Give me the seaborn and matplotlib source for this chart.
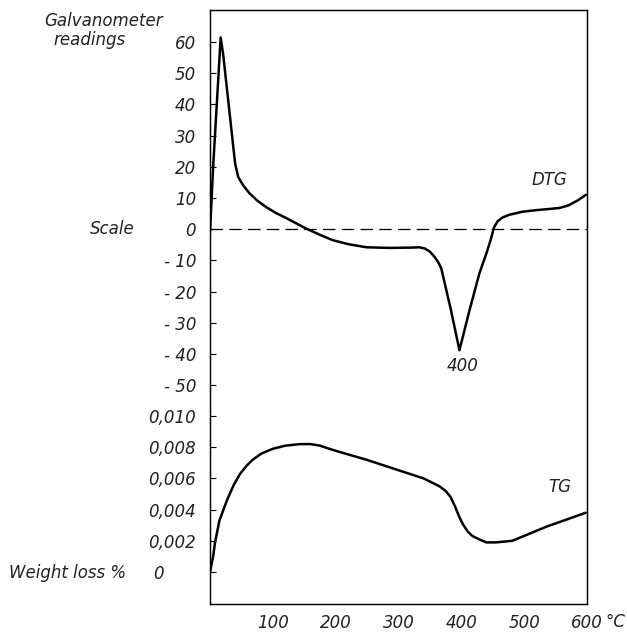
import matplotlib
matplotlib.use("Agg")
import matplotlib.pyplot as plt
import pandas as pd
import seaborn as sns

# DTG curve (galvanometer readings vs temperature, deg C)
dtg_temp = [0, 5, 17, 21, 40, 45, 53, 63, 75, 90, 105, 122, 152, 175, 195, 220, 249, 286,
            320, 333, 342, 350, 357, 363, 368, 383, 397, 413, 429, 440, 447, 452, 458,
            466, 476, 497, 519, 556, 570, 585, 598]
dtg_read = [-1, 20, 61.5, 56, 21, 16.7, 14, 11.5, 9.2, 7, 5.2, 3.5, 0.3, -1.8, -3.5, -4.8,
            -5.8, -6, -5.9, -5.8, -6.2, -7.2, -8.8, -10.5, -12.5, -25.5, -38.8, -26, -14,
            -7.7, -3.2, 0.6, 2.6, 3.8, 4.6, 5.6, 6.1, 6.8, 7.6, 9.2, 11]

# TG curve (weight loss % vs temperature, deg C)
tg_temp = [0, 5, 8, 15, 27, 38, 48, 58, 68, 82, 100, 120, 143, 160, 175, 190, 206, 249,
           302, 340, 365, 375, 383, 390, 396, 402, 410, 418, 428, 440, 455, 481, 535, 598]
tg_loss = [0.0, 0.0010, 0.0019, 0.0033, 0.0046, 0.0056, 0.0063, 0.0068, 0.0072, 0.0076,
           0.0079, 0.0081, 0.0082, 0.0082, 0.0081, 0.0079, 0.0077, 0.0072, 0.0065, 0.0060,
           0.0055, 0.0052, 0.0048, 0.0042, 0.0036, 0.0031, 0.0026, 0.0023, 0.0021, 0.0019,
           0.0019, 0.0020, 0.0029, 0.0038]

galv_ticks = [60, 50, 40, 30, 20, 10, 0, -10, -20, -30, -40, -50]
galv_labels = ["60", "50", "40", "30", "20", "10", "0", "- 10", "- 20", "- 30", "- 40", "- 50"]
loss_ticks = [0.010, 0.008, 0.006, 0.004, 0.002, 0.0]
loss_labels = ["0,010", "0,008", "0,006", "0,004", "0,002", "0      "]
temp_ticks = [100, 200, 300, 400, 500, 600]

sns.set_style("white")
plt.rcParams["font.family"] = ["DejaVu Sans"]
plt.rcParams["font.style"] = "italic"
plt.rcParams["font.size"] = 12
plt.rcParams["text.color"] = "#222222"

fig = plt.figure(figsize=(6.27, 6.35), dpi=100)
ax = fig.add_axes([210 / 627, 31 / 635, 377 / 627, 594 / 635])
ax2 = ax.twinx()

dtg = pd.DataFrame({"temp": dtg_temp, "reading": dtg_read})
tg = pd.DataFrame({"temp": tg_temp, "loss": tg_loss})

sns.lineplot(data=dtg, x="temp", y="reading", ax=ax, color="black", lw=1.8)
ax.axhline(0, color="black", lw=0.9, dashes=(10, 5))
sns.lineplot(data=tg, x="temp", y="loss", ax=ax2, color="black", lw=1.8)

ax.set_xlim(0, 600)
ax.set_ylim(-120.2, 70.3)
ax2.set_ylim(-0.00205, 0.03603)

ax.set_xticks(temp_ticks)
ax.set_xticklabels([str(t) for t in temp_ticks])
ax.set_yticks(galv_ticks)
ax.set_yticklabels(galv_labels)
ax2.set_yticks(loss_ticks)
ax2.set_yticklabels(loss_labels)
ax2.yaxis.tick_left()
ax2.yaxis.set_label_position("left")

for a in (ax, ax2):
    a.set_xlabel("")
    a.set_ylabel("")
    a.tick_params(direction="in", length=4, width=0.8, colors="black",
                  labelcolor="#222222", labelsize=12, pad=10)
    for s in a.spines.values():
        s.set_color("black")
        s.set_linewidth(0.9)
ax.tick_params(axis="x", pad=7)
ax2.tick_params(axis="y", right=False, labelright=False, left=True, labelleft=True)

# curve annotations
ax.text(540, 15.7, "DTG", ha="center", va="center")
ax.text(402, -44, "400", ha="center", va="center")
ax2.text(556, 0.00545, "TG", ha="center", va="center")

# left-hand captions
fig.text(104 / 627, 1 - 21 / 635, "Galvanometer", ha="center", va="center")
fig.text(89 / 627, 1 - 40 / 635, "readings", ha="center", va="center")
fig.text(112 / 627, 1 - 229 / 635, "Scale", ha="center", va="center")
fig.text(68 / 627, 1 - 573 / 635, "Weight loss %", ha="center", va="center")
fig.text(605 / 627, 1 - 622 / 635, "°C", ha="left", va="center")

fig.savefig("out.png", dpi=100)
